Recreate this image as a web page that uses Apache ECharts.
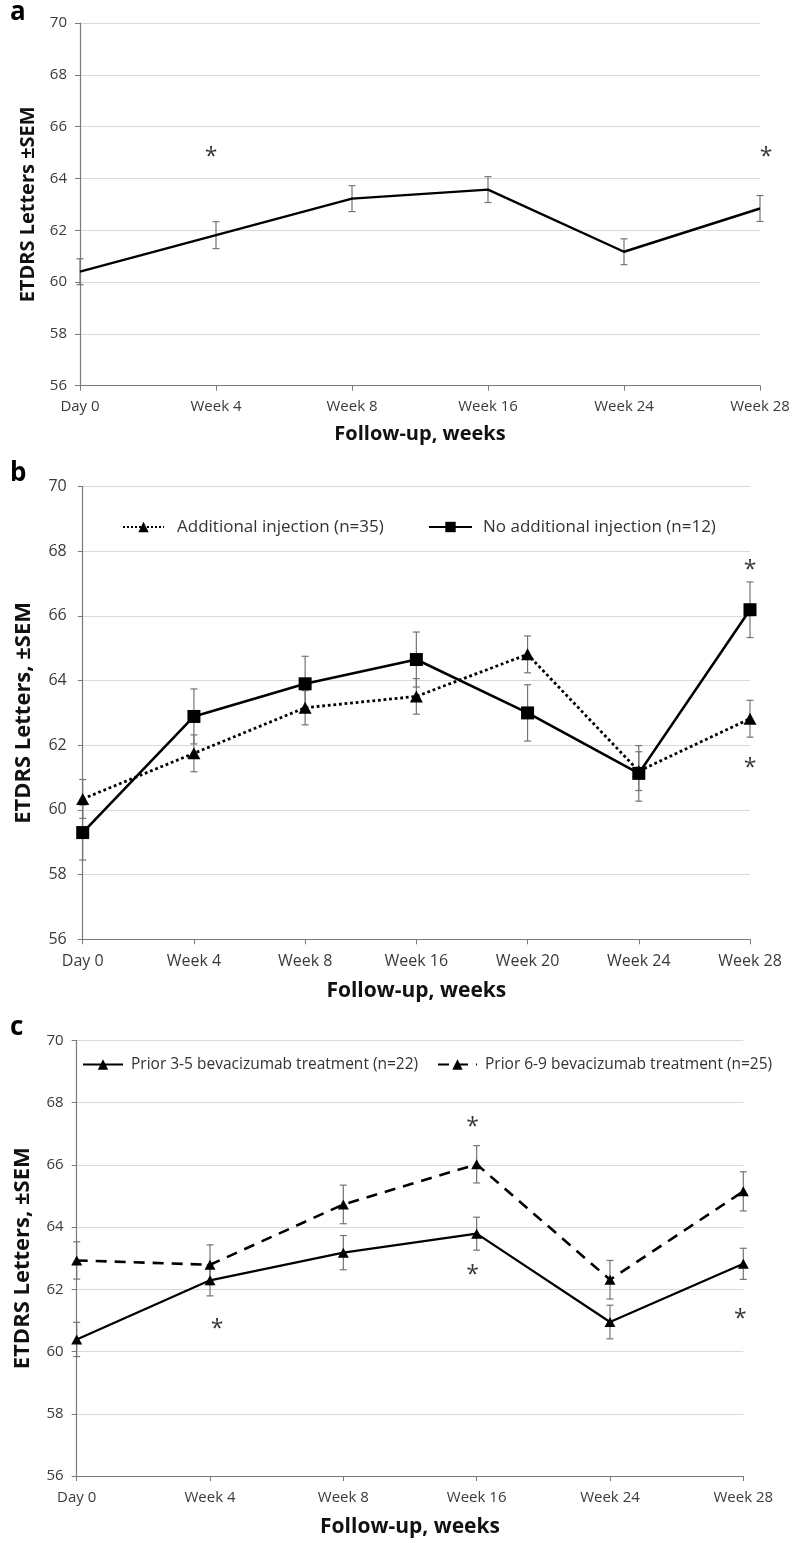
<!DOCTYPE html>
<html>
<head>
<meta charset="utf-8">
<script src="https://cdn.jsdelivr.net/npm/echarts@6.0.0/dist/echarts.min.js"></script>
<style>
  html, body { margin: 0; padding: 0; background: #fff; }
  #main { width: 793px; height: 1543px; }
</style>
</head>
<body>
<div id="main"></div>
<script>
// panel a
var catsA = ['Day 0', 'Week 4', 'Week 8', 'Week 16', 'Week 24', 'Week 28'];
var meanA = [60.40, 61.81, 63.22, 63.57, 61.17, 62.84];
var semA = [0.50, 0.52, 0.50, 0.50, 0.50, 0.50];
var starsA = [[1, 65.0], [5, 65.0]];

// panel b
var catsB = ['Day 0', 'Week 4', 'Week 8', 'Week 16', 'Week 20', 'Week 24', 'Week 28'];
var addInj = [60.34, 61.75, 63.16, 63.51, 64.81, 61.20, 62.82];
var addInjSem = [0.60, 0.57, 0.53, 0.55, 0.57, 0.60, 0.57];
var noInj = [59.30, 62.89, 63.90, 64.65, 63.00, 61.13, 66.19];
var noInjSem = [0.85, 0.85, 0.85, 0.85, 0.87, 0.86, 0.86];
var starsB = [[6, 67.57], [6, 61.45]];

// panel c
var catsC = ['Day 0', 'Week 4', 'Week 8', 'Week 16', 'Week 24', 'Week 28'];
var prior35 = [60.39, 62.29, 63.18, 63.79, 60.95, 62.82];
var prior35Sem = [0.55, 0.50, 0.55, 0.53, 0.54, 0.50];
var prior69 = [62.93, 62.79, 64.73, 66.02, 62.31, 65.15];
var prior69Sem = [0.60, 0.64, 0.62, 0.60, 0.62, 0.63];
var starsC = [[1, 60.88], [3, 67.35], [3, 62.62], [5, 61.18]];

var nameAdd = 'Additional injection (n=35)';
var nameNo = 'No additional injection (n=12)';
var name35 = 'Prior 3-5 bevacizumab treatment (n=22)';
var name69 = 'Prior 6-9 bevacizumab treatment (n=25)';

var FONT = 'Open Sans';
var chart = echarts.init(document.getElementById('main'));

function errData(mean, sem) {
  return mean.map(function (m, i) { return [i, m - sem[i], m + sem[i]]; });
}

function renderErr(params, api) {
  var i = api.value(0);
  var lo = api.coord([i, api.value(1)]);
  var hi = api.coord([i, api.value(2)]);
  var w = 3.5;
  var st = { stroke: '#747474', lineWidth: 1.2 };
  return {
    type: 'group',
    children: [
      { type: 'line', shape: { x1: lo[0], y1: lo[1], x2: hi[0], y2: hi[1] }, style: st },
      { type: 'line', shape: { x1: lo[0] - w, y1: lo[1], x2: lo[0] + w, y2: lo[1] }, style: st },
      { type: 'line', shape: { x1: hi[0] - w, y1: hi[1], x2: hi[0] + w, y2: hi[1] }, style: st }
    ]
  };
}

function errSeries(idx, mean, sem) {
  return {
    type: 'custom', xAxisIndex: idx, yAxisIndex: idx, z: 1, silent: true,
    renderItem: renderErr, encode: { x: 0, y: [1, 2] },
    data: errData(mean, sem)
  };
}

function starSeries(idx, stars, offsets) {
  return {
    type: 'scatter', xAxisIndex: idx, yAxisIndex: idx, z: 5, silent: true,
    symbolSize: 1, itemStyle: { color: 'rgba(0,0,0,0)' },
    label: { show: true, formatter: '*', position: 'inside', fontSize: 23, fontFamily: FONT, color: '#000' },
    data: stars.map(function (s, i) {
      return { value: s, label: { offset: [offsets[i], 5] } };
    })
  };
}

function xAx(idx, cats, fs, tfs, gap) {
  return {
    type: 'category', gridIndex: idx, data: cats, boundaryGap: false,
    axisLine: { lineStyle: { color: '#7a7a7a', width: 1.2 } },
    axisTick: { show: true, length: 5, lineStyle: { color: '#7a7a7a' } },
    axisLabel: { fontSize: fs, fontFamily: FONT, color: '#3a3a3a', margin: 14 },
    splitLine: { show: false },
    name: 'Follow-up, weeks', nameLocation: 'middle', nameGap: gap,
    nameTextStyle: { fontSize: tfs, fontWeight: 'bold', fontFamily: FONT, color: '#111' }
  };
}

function yAx(idx, title, fs, tfs, margin, gap) {
  return {
    type: 'value', gridIndex: idx, min: 56, max: 70, interval: 2,
    axisLine: { show: true, lineStyle: { color: '#7a7a7a', width: 1.2 } },
    axisTick: { show: true, length: 5, lineStyle: { color: '#7a7a7a' } },
    axisLabel: { fontSize: fs, fontFamily: FONT, color: '#3a3a3a', margin: margin },
    splitLine: { lineStyle: { color: '#d9d9d9', width: 1 } },
    name: title, nameLocation: 'middle', nameRotate: 90, nameGap: gap,
    nameTextStyle: { fontSize: tfs, fontWeight: 'bold', fontFamily: FONT, color: '#111' }
  };
}

function legendItem(name, left, top, w, fs, pad) {
  return {
    data: [name], left: left, top: top, padding: 0, itemWidth: w, itemHeight: 13,
    selectedMode: false,
    textStyle: { fontSize: fs, fontFamily: FONT, color: '#333', padding: [0, 0, 0, pad] }
  };
}

var option = {
  backgroundColor: '#fff',
  animation: false,
  grid: [
    { left: 80, top: 23, width: 680, height: 362.7 },
    { left: 82.7, top: 486.5, width: 667.3, height: 452.8 },
    { left: 76.7, top: 1040.5, width: 666.6, height: 435.5 }
  ],
  xAxis: [
    xAx(0, catsA, 15, 20, 39),
    xAx(1, catsB, 16, 21, 41.5),
    xAx(2, catsC, 15, 21, 40.5)
  ],
  yAxis: [
    yAx(0, 'ETDRS Letters ±SEM', 15, 20, 13, 42),
    yAx(1, 'ETDRS Letters, ±SEM', 16, 22, 16, 47.5),
    yAx(2, 'ETDRS Letters, ±SEM', 15, 22, 13, 43)
  ],
  legend: [
    legendItem(nameAdd, 122, 518.5, 41, 17, 8),
    legendItem(nameNo, 428, 518.5, 43, 17, 6),
    legendItem(name35, 82, 1056.5, 40, 15.5, 3),
    legendItem(name69, 437, 1056.5, 39, 15.5, 3)
  ],
  graphic: [
    { type: 'text', left: 10, top: 0, style: { text: 'a', fontSize: 26, fontWeight: 'bold', fontFamily: FONT, fill: '#000' } },
    { type: 'text', left: 10, top: 461, style: { text: 'b', fontSize: 26, fontWeight: 'bold', fontFamily: FONT, fill: '#000' } },
    { type: 'text', left: 10, top: 1015, style: { text: 'c', fontSize: 26, fontWeight: 'bold', fontFamily: FONT, fill: '#000' } }
  ],
  series: [
    // a
    errSeries(0, meanA, semA),
    {
      type: 'line', xAxisIndex: 0, yAxisIndex: 0, z: 2, data: meanA,
      symbol: 'none', lineStyle: { color: '#000', width: 2.4 }
    },
    starSeries(0, starsA, [-5, 6]),
    // b
    errSeries(1, addInj, addInjSem),
    errSeries(1, noInj, noInjSem),
    {
      name: nameAdd, type: 'line', xAxisIndex: 1, yAxisIndex: 1, z: 2, data: addInj,
      symbol: 'triangle', symbolSize: [13, 12], itemStyle: { color: '#000' },
      lineStyle: { color: '#000', width: 2.8, type: 'dotted' }
    },
    {
      name: nameNo, type: 'line', xAxisIndex: 1, yAxisIndex: 1, z: 3, data: noInj,
      symbol: 'rect', symbolSize: 13, itemStyle: { color: '#000' },
      lineStyle: { color: '#000', width: 2.6 }
    },
    starSeries(1, starsB, [0, 0]),
    // c
    errSeries(2, prior35, prior35Sem),
    errSeries(2, prior69, prior69Sem),
    {
      name: name35, type: 'line', xAxisIndex: 2, yAxisIndex: 2, z: 3, data: prior35,
      symbol: 'triangle', symbolSize: [11, 10], itemStyle: { color: '#000' },
      lineStyle: { color: '#000', width: 2.2 }
    },
    {
      name: name69, type: 'line', xAxisIndex: 2, yAxisIndex: 2, z: 2, data: prior69,
      symbol: 'triangle', symbolSize: [11, 10], itemStyle: { color: '#000' },
      lineStyle: { color: '#000', width: 2.6, type: [11, 8] }
    },
    starSeries(2, starsC, [7, -4, -4, -3])
  ]
};

chart.setOption(option);
</script>
</body>
</html>
